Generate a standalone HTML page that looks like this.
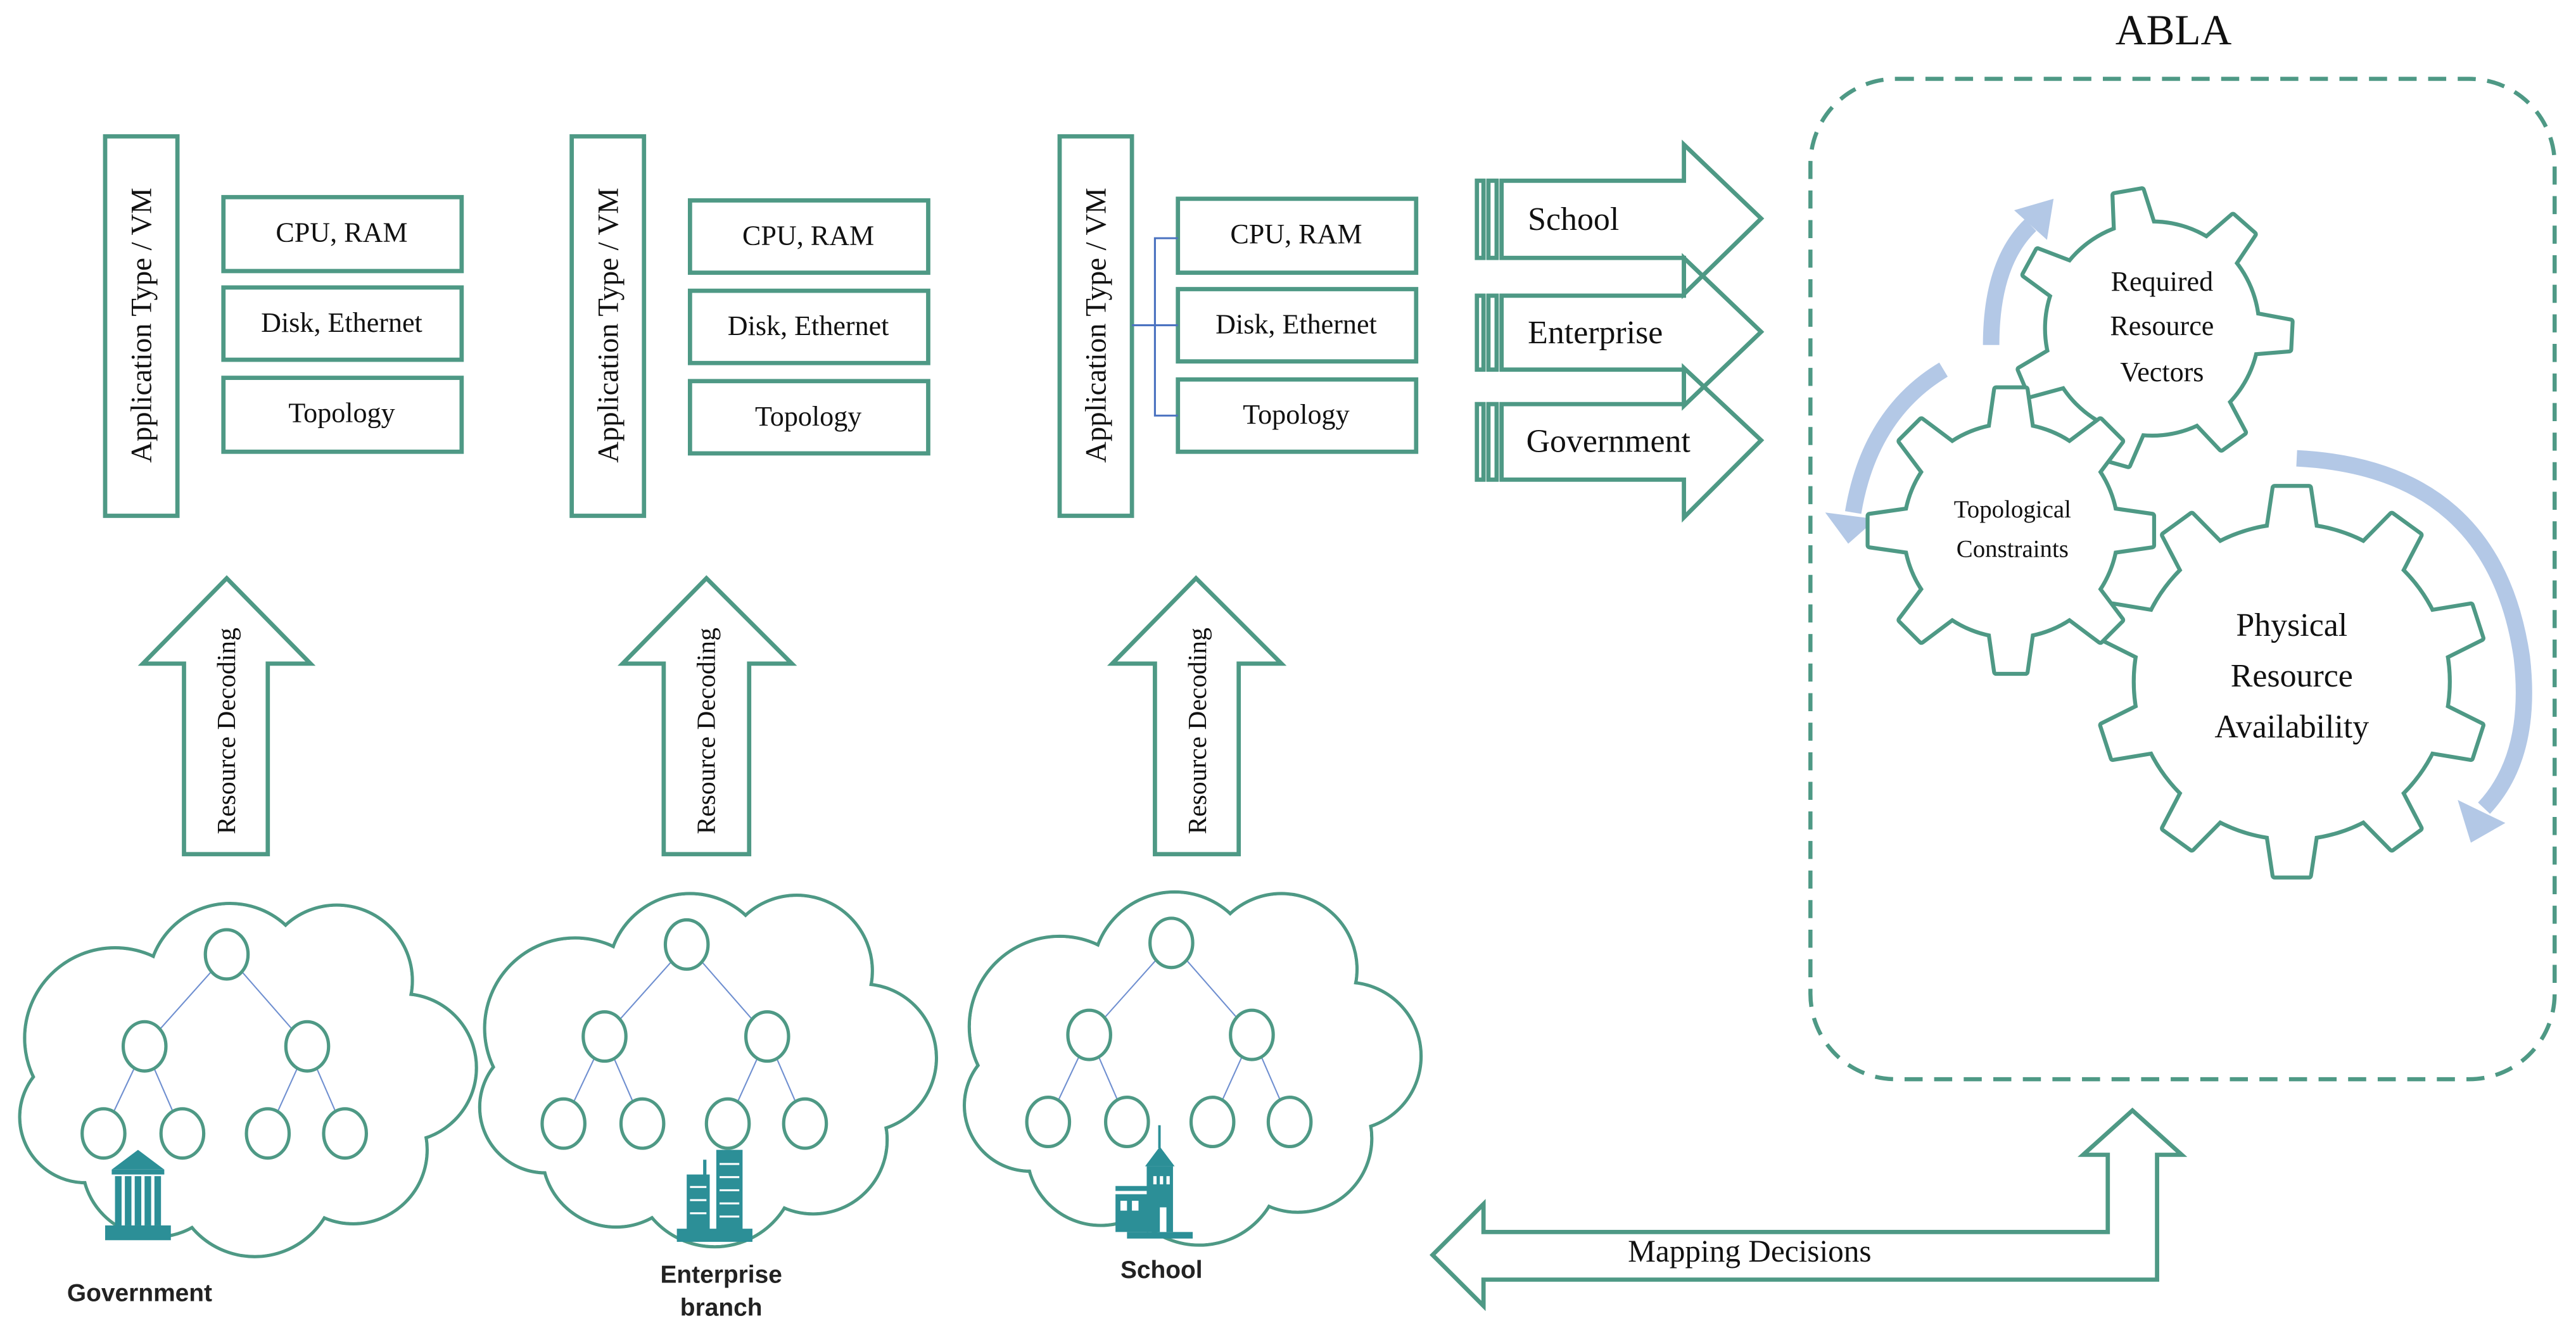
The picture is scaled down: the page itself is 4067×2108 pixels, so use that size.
<!DOCTYPE html>
<html><head><meta charset="utf-8"><style>
html,body{margin:0;padding:0;background:#fff;width:4067px;height:2108px;overflow:hidden}
svg{display:block}
.s{fill:none;stroke:#4e9985;stroke-width:2.6}
.t{font-family:"Liberation Serif",serif;fill:#111}
.sn{font-family:"Liberation Sans",sans-serif;font-weight:bold;fill:#222}
</style></head><body>
<svg width="4067" height="2108" viewBox="0 0 1568 812.7" xmlns="http://www.w3.org/2000/svg">
<defs>
<g id="cloud">
 <g fill="none" stroke="#4e9985" stroke-width="2">
  <circle cx="70" cy="632" r="55"/><circle cx="140" cy="600" r="50"/><circle cx="205" cy="597" r="46"/>
  <circle cx="245" cy="650" r="45"/><circle cx="215" cy="700" r="45"/><circle cx="155" cy="715" r="50"/>
  <circle cx="95" cy="708" r="45"/><circle cx="52" cy="680" r="40"/>
 </g>
 <g fill="#fff">
  <circle cx="70" cy="632" r="54"/><circle cx="140" cy="600" r="49"/><circle cx="205" cy="597" r="45"/>
  <circle cx="245" cy="650" r="44"/><circle cx="215" cy="700" r="44"/><circle cx="155" cy="715" r="49"/>
  <circle cx="95" cy="708" r="44"/><circle cx="52" cy="680" r="39"/><circle cx="150" cy="660" r="60"/>
 </g>
 <g stroke="#6f8fd0" stroke-width="0.8">
  <line x1="138" y1="581" x2="88" y2="637"/><line x1="138" y1="581" x2="187" y2="637"/>
  <line x1="88" y1="637" x2="63" y2="690"/><line x1="88" y1="637" x2="111" y2="690"/>
  <line x1="187" y1="637" x2="163" y2="690"/><line x1="187" y1="637" x2="210" y2="690"/>
 </g>
 <g fill="#fff" stroke="#4e9985" stroke-width="2">
  <ellipse cx="138" cy="581" rx="13" ry="15"/><ellipse cx="88" cy="637" rx="13" ry="15"/><ellipse cx="187" cy="637" rx="13" ry="15"/>
  <ellipse cx="63" cy="690" rx="13" ry="15"/><ellipse cx="111" cy="690" rx="13" ry="15"/><ellipse cx="163" cy="690" rx="13" ry="15"/><ellipse cx="210" cy="690" rx="13" ry="15"/>
 </g>
</g>
<polygon id="t1" points="-12,-58 -8.5,-84 8.5,-84 12,-58"/>
<polygon id="t2" points="-13,-58 -9,-86 9,-86 13,-58"/>
<polygon id="t3" points="-15,-88 -10.5,-118 10.5,-118 15,-88"/>
<g id="gear1">
 <circle r="64"/>
 <use href="#t1" transform="rotate(-10)"/><use href="#t1" transform="rotate(41.4)"/><use href="#t1" transform="rotate(92.9)"/>
 <use href="#t1" transform="rotate(144.3)"/><use href="#t1" transform="rotate(195.7)"/><use href="#t1" transform="rotate(247.1)"/><use href="#t1" transform="rotate(298.6)"/>
</g>
<g id="gear2">
 <circle r="64"/>
 <use href="#t2"/><use href="#t2" transform="rotate(45)"/><use href="#t2" transform="rotate(90)"/><use href="#t2" transform="rotate(135)"/>
 <use href="#t2" transform="rotate(180)"/><use href="#t2" transform="rotate(225)"/><use href="#t2" transform="rotate(270)"/><use href="#t2" transform="rotate(315)"/>
</g>
<g id="gear3">
 <circle r="95"/>
 <use href="#t3"/><use href="#t3" transform="rotate(36)"/><use href="#t3" transform="rotate(72)"/><use href="#t3" transform="rotate(108)"/><use href="#t3" transform="rotate(144)"/>
 <use href="#t3" transform="rotate(180)"/><use href="#t3" transform="rotate(216)"/><use href="#t3" transform="rotate(252)"/><use href="#t3" transform="rotate(288)"/><use href="#t3" transform="rotate(324)"/>
</g>
</defs>

<g class="s">
 <rect x="64" y="83" width="44" height="231"/>
 <rect x="136" y="120" width="145" height="45"/><rect x="136" y="175" width="145" height="44"/><rect x="136" y="230" width="145" height="45"/>
 <rect x="348" y="83" width="44" height="231"/>
 <rect x="420" y="122" width="145" height="44"/><rect x="420" y="177" width="145" height="44"/><rect x="420" y="232" width="145" height="44"/>
 <rect x="645" y="83" width="44" height="231"/>
 <rect x="717" y="121" width="145" height="45"/><rect x="717" y="176" width="145" height="44"/><rect x="717" y="231" width="145" height="44"/>
</g>
<g stroke="#4a72c0" stroke-width="1.2" fill="none">
 <path d="M717 145 H703 V253 H717 M689 198 H717"/>
</g>
<g class="t" font-size="18" text-anchor="middle">
 <text transform="translate(92,198) rotate(-90)">Application Type / VM</text>
 <text transform="translate(376,198) rotate(-90)">Application Type / VM</text>
 <text transform="translate(673,198) rotate(-90)">Application Type / VM</text>
</g>
<g class="t" font-size="17" text-anchor="middle">
 <text x="208" y="147">CPU, RAM</text><text x="208" y="202">Disk, Ethernet</text><text x="208" y="257">Topology</text>
 <text x="492" y="149">CPU, RAM</text><text x="492" y="204">Disk, Ethernet</text><text x="492" y="259">Topology</text>
 <text x="789" y="148">CPU, RAM</text><text x="789" y="203">Disk, Ethernet</text><text x="789" y="258">Topology</text>
</g>

<g class="s">
 <path d="M112 520 V404 H87 L138 352 L189 404 H163 V520 Z"/>
 <path d="M404 520 V404 H379 L430 352 L482 404 H456 V520 Z"/>
 <path d="M703 520 V404 H677 L728 352 L780 404 H754 V520 Z"/>
</g>
<g class="t" font-size="16" text-anchor="middle">
 <text transform="translate(143,445) rotate(-90)">Resource Decoding</text>
 <text transform="translate(435,445) rotate(-90)">Resource Decoding</text>
 <text transform="translate(734,445) rotate(-90)">Resource Decoding</text>
</g>

<g class="s" stroke-width="2">
 <rect x="899" y="110" width="4" height="47"/><rect x="906" y="110" width="5" height="47"/>
 <path d="M914 110 H1025 V88 L1072 133 L1025 179 V157 H914 Z"/>
 <rect x="899" y="180" width="4" height="45"/><rect x="906" y="180" width="5" height="45"/>
 <path d="M914 180 H1025 V157 L1072 202 L1025 247 V225 H914 Z"/>
 <rect x="899" y="246" width="4" height="46"/><rect x="906" y="246" width="5" height="46"/>
 <path d="M914 246 H1025 V224 L1072 268 L1025 315 V292 H914 Z"/>
</g>
<g class="t" font-size="20">
 <text x="930" y="140">School</text><text x="930" y="209">Enterprise</text><text x="929" y="275">Government</text>
</g>

<text class="t" x="1323" y="27" font-size="26" text-anchor="middle">ABLA</text>
<rect x="1102" y="48" width="453" height="609" rx="52" fill="none" stroke="#4e9985" stroke-width="2.5" stroke-dasharray="11 7"/>

<g fill="none" stroke="#b3c8e6" stroke-width="10">
 <path d="M1212 210 Q1212 160 1236 137"/>
 <path d="M1183 225 Q1138 252 1128 312"/>
 <path d="M1398 279 Q1518 285 1535 400 Q1542 460 1512 492"/>
</g>
<g fill="#b3c8e6">
 <polygon points="1226,128 1250,121 1246,146"/>
 <polygon points="1111,312 1142,316 1125,331"/>
 <polygon points="1496,487 1525,501 1504,513"/>
</g>

<g stroke="#4e9985" stroke-width="4.8" fill="#fff" stroke-linejoin="round">
 <use href="#gear1" transform="translate(1310,200)"/>
</g>
<g fill="#fff"><use href="#gear1" transform="translate(1310,200)"/></g>
<g stroke="#4e9985" stroke-width="4.8" fill="#fff" stroke-linejoin="round">
 <use href="#gear3" transform="translate(1395,415)"/>
</g>
<g fill="#fff"><use href="#gear3" transform="translate(1395,415)"/></g>
<g stroke="#4e9985" stroke-width="4.8" fill="#fff" stroke-linejoin="round">
 <use href="#gear2" transform="translate(1224,323)"/>
</g>
<g fill="#fff"><use href="#gear2" transform="translate(1224,323)"/></g>

<g class="t" text-anchor="middle">
 <text x="1316" y="177" font-size="17">Required</text><text x="1316" y="204" font-size="17">Resource</text><text x="1316" y="232" font-size="17">Vectors</text>
 <text x="1225" y="315" font-size="15">Topological</text><text x="1225" y="339" font-size="15">Constraints</text>
 <text x="1395" y="387" font-size="20">Physical</text><text x="1395" y="418" font-size="20">Resource</text><text x="1395" y="449" font-size="20">Availability</text>
</g>

<use href="#cloud"/>
<use href="#cloud" transform="translate(280,-6)"/>
<use href="#cloud" transform="translate(575,-7)"/>

<g fill="#2c8f97">
 <path d="M68 712 L84 700 L100 712 Z"/><rect x="68" y="712" width="32" height="3"/>
 <rect x="70" y="716" width="4" height="30"/><rect x="76" y="716" width="4" height="30"/><rect x="82" y="716" width="4" height="30"/><rect x="88" y="716" width="4" height="30"/><rect x="94" y="716" width="4" height="30"/>
 <rect x="64" y="746" width="40" height="9"/>
 <rect x="418" y="715" width="14" height="38"/><rect x="428" y="706" width="2" height="10"/>
 <rect x="436" y="700" width="16" height="53"/>
 <rect x="412" y="748" width="46" height="8"/>
 <path d="M697 710 L706 698 L715 710 Z"/><rect x="698" y="710" width="16" height="40"/><rect x="705" y="685" width="1.5" height="14"/>
 <rect x="679" y="722" width="20" height="3"/><rect x="679" y="727" width="20" height="23"/>
 <rect x="686" y="750" width="40" height="4"/>
</g>
<g fill="#fff">
 <rect x="420" y="722" width="10" height="1.2"/><rect x="420" y="730" width="10" height="1.2"/><rect x="420" y="738" width="10" height="1.2"/>
 <rect x="438" y="708" width="12" height="1.2"/><rect x="438" y="716" width="12" height="1.2"/><rect x="438" y="724" width="12" height="1.2"/><rect x="438" y="732" width="12" height="1.2"/><rect x="438" y="740" width="12" height="1.2"/>
 <rect x="702" y="716" width="2" height="5"/><rect x="706" y="716" width="2" height="5"/><rect x="710" y="716" width="2" height="5"/>
 <rect x="682" y="731" width="4" height="6"/><rect x="689" y="731" width="4" height="6"/><rect x="706" y="735" width="4" height="15"/>
</g>
<g class="sn" text-anchor="middle" font-size="15">
 <text x="85" y="792">Government</text>
 <text x="439" y="781">Enterprise</text><text x="439" y="801">branch</text>
 <text x="707" y="778">School</text>
</g>

<path class="s" d="M872 764 L903 733 V750 H1283 V703 H1268 L1298 676 L1328 703 H1313 V779 H903 V795 Z"/>
<text class="t" x="1065" y="768" font-size="19" text-anchor="middle">Mapping Decisions</text>
</svg>
</body></html>
